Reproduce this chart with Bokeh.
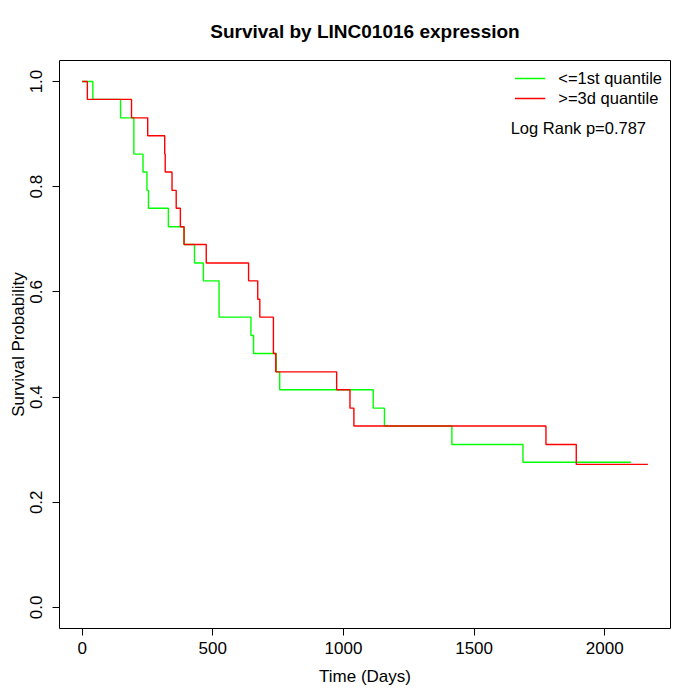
import math
from bokeh.plotting import figure
from bokeh.models import Range1d, FixedTicker, Legend, LegendItem, Label, Title
from bokeh.embed import file_html
from bokeh.resources import INLINE

# ---- data ----
title_text = "Survival by LINC01016 expression"
x_label = "Time (Days)"
y_label = "Survival Probability"
series_names = ["<=1st quantile", ">=3d quantile"]
series_colors = ["#00FF00", "#FF0000"]

low_time = [0, 41, 147, 198, 233, 248, 254, 330, 390, 430, 464, 524, 646, 656,
            743, 756, 1114, 1157, 1415, 1687, 2100]
low_surv = [1.0, 0.966, 0.931, 0.862, 0.828, 0.793, 0.759, 0.724, 0.690, 0.655,
            0.621, 0.552, 0.517, 0.483, 0.448, 0.414, 0.379, 0.345, 0.310, 0.276, 0.276]

high_time = [0, 20, 189, 251, 316, 318, 344, 360, 376, 390, 475, 637, 672, 680,
             732, 741, 974, 1025, 1040, 1775, 1891, 2165]
high_surv = [1.0, 0.966, 0.931, 0.897, 0.862, 0.828, 0.793, 0.759, 0.724, 0.690,
             0.655, 0.621, 0.586, 0.552, 0.483, 0.448, 0.414, 0.379, 0.345, 0.310,
             0.272, 0.272]

x_ticks = [0, 500, 1000, 1500, 2000]
y_ticks = [0.0, 0.2, 0.4, 0.6, 0.8, 1.0]
y_tick_labels = ["0.0", "0.2", "0.4", "0.6", "0.8", "1.0"]
p_value_text = "Log Rank p=0.787"

FONT = "Liberation Sans"

x_max = max(max(low_time), max(high_time))
pad = 0.04 * x_max
x_lo, x_hi = -pad, x_max + pad
FRAME_W, FRAME_H = 611, 568

p = figure(frame_width=FRAME_W, frame_height=FRAME_H,
           min_border_left=59, min_border_right=30,
           min_border_top=59, min_border_bottom=73,
           x_range=Range1d(x_lo, x_hi), y_range=Range1d(-0.04, 1.04),
           output_backend="svg", toolbar_location=None,
           title=title_text)

p.title.align = "center"
p.title.text_font = FONT
p.title.text_font_size = "19px"
p.title.text_font_style = "bold"
p.title.text_color = "black"
p.title.standoff = 37

p.grid.visible = False
p.outline_line_color = "black"
p.outline_line_width = 1
p.background_fill_color = "white"
p.border_fill_color = "white"

for ax in (p.xaxis[0], p.yaxis[0]):
    ax.axis_line_color = None
    ax.major_tick_out = 7
    ax.major_tick_in = 0
    ax.minor_tick_line_color = None
    ax.major_tick_line_color = "black"
    ax.major_label_text_font = FONT
    ax.major_label_text_font_size = "17px"
    ax.major_label_text_color = "black"
    ax.axis_label_text_font = FONT
    ax.axis_label_text_font_size = "17px"
    ax.axis_label_text_font_style = "normal"
    ax.axis_label_text_color = "black"

p.xaxis.ticker = FixedTicker(ticks=x_ticks)
p.xaxis.axis_label = x_label
p.xaxis.major_label_standoff = 6
p.xaxis.axis_label_standoff = 10

p.yaxis.ticker = FixedTicker(ticks=y_ticks)
p.yaxis.major_label_overrides = {t: s for t, s in zip(y_ticks, y_tick_labels)}
p.yaxis.major_label_orientation = "vertical"
p.yaxis.major_label_standoff = 10

# y-axis title as a side title in the left panel
y_title = Title(text=y_label, align="center", text_font=FONT, text_font_size="17px",
                text_font_style="normal", text_color="black", standoff=0, offset=0)
p.add_layout(y_title, "left")

r_low = p.step(low_time, low_surv, mode="after", line_color=series_colors[0], line_width=1.4)
r_high = p.step(high_time, high_surv, mode="after", line_color=series_colors[1], line_width=1.4)

legend = Legend(items=[LegendItem(label=series_names[0], renderers=[r_low]),
                       LegendItem(label=series_names[1], renderers=[r_high])],
                location="top_right")
legend.border_line_color = None
legend.background_fill_alpha = 0
legend.label_text_font = FONT
legend.label_text_font_size = "16.5px"
legend.label_text_color = "black"
legend.glyph_width = 31
legend.glyph_height = 20
legend.label_height = 20
legend.label_standoff = 13
legend.spacing = 0
legend.padding = 10
legend.margin = 8
p.add_layout(legend)

p.add_layout(Label(x=1640, y=0.9125, text=p_value_text, text_font=FONT,
                   text_font_size="16.5px", text_baseline="middle", text_align="left",
                   text_color="black"))

open("out.html", "w").write(file_html(p, INLINE))
